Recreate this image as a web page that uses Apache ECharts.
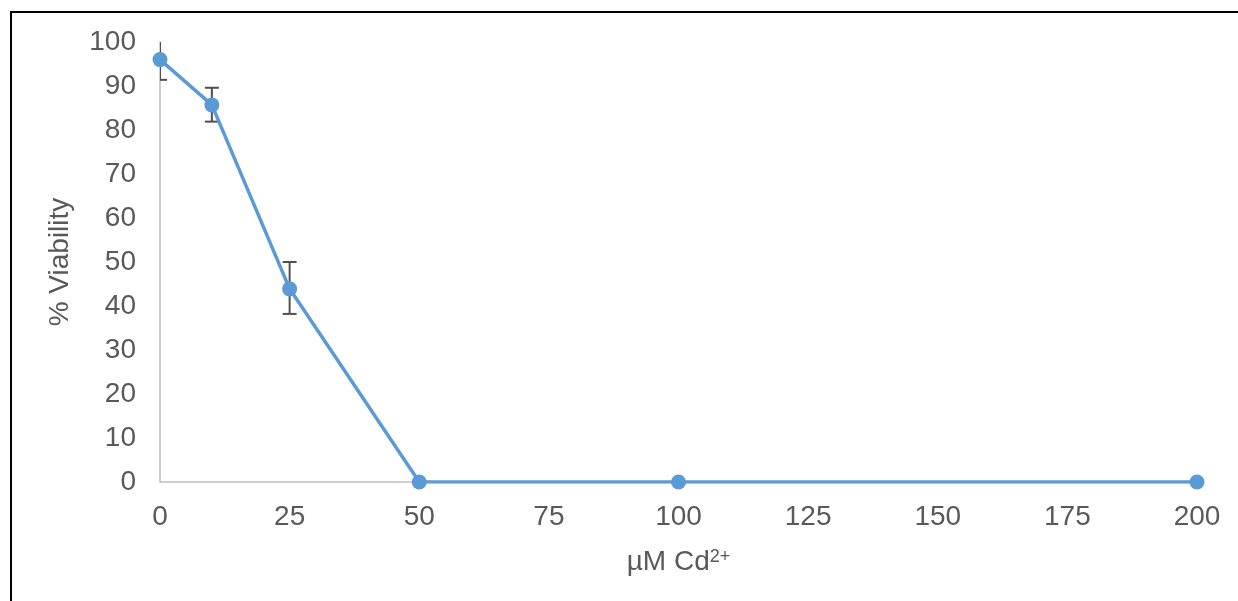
<!DOCTYPE html>
<html>
<head>
<meta charset="utf-8">
<script src="https://cdn.jsdelivr.net/npm/echarts@6/dist/echarts.min.js"></script>
<style>
  html, body { margin: 0; padding: 0; background: #fff; }
  #chart { position: absolute; left: 0; top: 0; width: 1238px; height: 601px; }
  #frame { position: absolute; left: 10px; top: 11px; right: 0; bottom: 0;
           border-left: 2px solid #000; border-top: 2px solid #000; pointer-events: none; }
</style>
</head>
<body>
<div id="chart"></div>
<div id="frame"></div>
<script>
// concentration (uM Cd2+) and viability
var doses = [0, 10, 25, 50, 100, 200]
var viability = [96, 85.7, 43.9, 0, 0, 0]
var errLow = [91.4, 81.9, 38.2, 0, 0, 0]
var errHigh = [100.8, 89.6, 50, 0, 0, 0]

var lineData = []
var errData = []
for (let i = 0; i < doses.length; i++) {
  lineData.push([doses[i], viability[i]])
  if (errHigh[i] > errLow[i]) {
    errData.push([doses[i], errLow[i], errHigh[i]])
  }
}

var textColor = '#595959'
var blue = '#5B9BD5'

const chart = echarts.init(document.getElementById('chart'), null, {
  width: 1238,
  height: 601
})

function renderErr(params, api) {
  let x = api.value(0)
  let lo = api.coord([x, api.value(1)])
  let hi = api.coord([x, api.value(2)])
  let half = 7
  let cs = params.coordSys
  let style = { stroke: '#505050', lineWidth: 2, fill: null }
  return {
    type: 'group',
    clipPath: { type: 'rect', shape: { x: cs.x, y: cs.y, width: cs.width, height: cs.height } },
    children: [
      { type: 'line', shape: { x1: lo[0], y1: lo[1], x2: hi[0], y2: hi[1] }, style: style },
      { type: 'line', shape: { x1: lo[0] - half, y1: lo[1], x2: lo[0] + half, y2: lo[1] }, style: style },
      { type: 'line', shape: { x1: hi[0] - half, y1: hi[1], x2: hi[0] + half, y2: hi[1] }, style: style }
    ]
  }
}

var option = {
  animation: false,
  textStyle: { fontFamily: 'Liberation Sans, Arial, sans-serif' },
  grid: {
    left: 160,
    right: 41,
    top: 42,
    bottom: 119,
    containLabel: false
  },
  xAxis: {
    type: 'value',
    min: 0,
    max: 200,
    interval: 25,
    name: '{a|µM Cd}{sup|2+}',
    nameLocation: 'middle',
    nameGap: 66,
    nameTextStyle: {
      rich: {
        a: { fontSize: 28, color: textColor, fontFamily: 'Liberation Sans' },
        sup: { fontSize: 18, color: textColor, fontFamily: 'Liberation Sans', verticalAlign: 'top', padding: [0, 0, 8, 0] }
      }
    },
    axisLine: { show: true, lineStyle: { color: '#BFBFBF', width: 1.5 } },
    axisTick: { show: false },
    splitLine: { show: false },
    axisLabel: { color: textColor, fontSize: 28, margin: 21 }
  },
  yAxis: {
    type: 'value',
    min: 0,
    max: 100,
    interval: 10,
    name: '% Viability',
    nameLocation: 'middle',
    nameGap: 86,
    nameTextStyle: { color: textColor, fontSize: 28 },
    axisLine: { show: true, lineStyle: { color: '#BFBFBF', width: 1.5 } },
    axisTick: { show: false },
    splitLine: { show: false },
    axisLabel: { color: textColor, fontSize: 28, margin: 24 }
  },
  series: [
    {
      type: 'custom',
      renderItem: renderErr,
      data: errData,
      clip: true,
      z: 1,
      encode: { x: 0, y: [1, 2] }
    },
    {
      type: 'line',
      data: lineData,
      symbol: 'circle',
      symbolSize: 15,
      itemStyle: { color: blue },
      lineStyle: { color: blue, width: 3.5 },
      z: 2
    }
  ]
}
chart.setOption(option)
</script>
</body>
</html>
